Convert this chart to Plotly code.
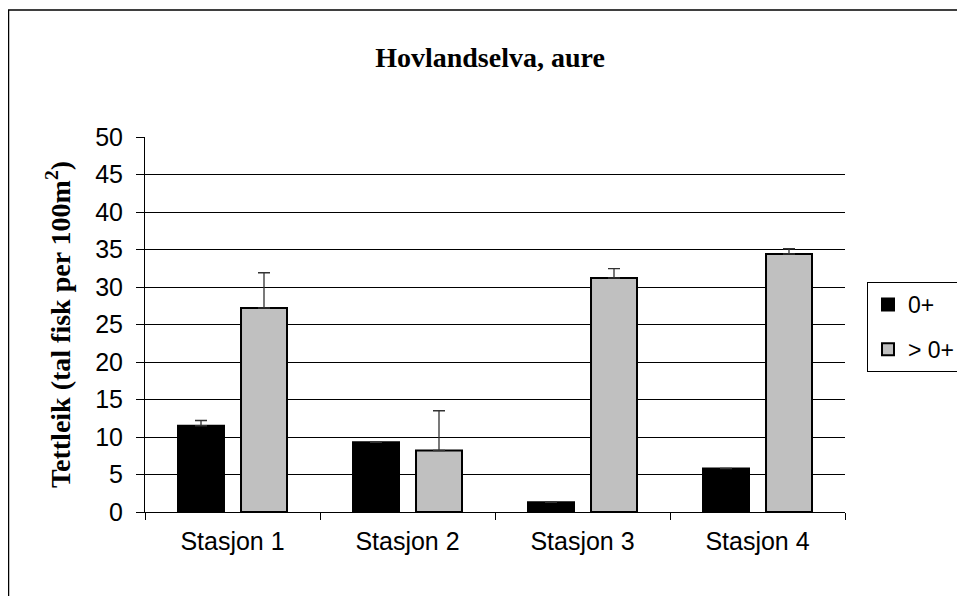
import plotly.graph_objects as go

stations = ["Stasjon 1", "Stasjon 2", "Stasjon 3", "Stasjon 4"]
young = [11.5, 9.3, 1.3, 5.8]          # 0+
young_err = [0.7, 0, 0, 0]
older = [27.2, 8.2, 31.2, 34.4]        # > 0+
older_err = [4.7, 5.3, 1.25, 0.7]
no_err = [0, 0, 0, 0]
y_ticks = [0, 5, 10, 15, 20, 25, 30, 35, 40, 45, 50]

# page body adds an 8px offset, so the figure is laid out 8px smaller
W, H = 957, 588
L, R, T, B = 137, 120, 129, 84
PW, PH = W - L - R, H - T - B


def err(vals):
    return {"type": "data", "symmetric": False, "array": vals, "arrayminus": no_err,
            "color": "#333333", "thickness": 1.3, "width": 6}


fig = go.Figure()
fig.add_trace(go.Bar(x=stations, y=young, name="0+", legendgroup="a",
                     marker={"color": "black", "line": {"color": "black", "width": 2}},
                     error_y=err(young_err)))
fig.add_trace(go.Bar(x=stations, y=older, name="> 0+", legendgroup="b",
                     marker={"color": "#c0c0c0", "line": {"color": "black", "width": 2}},
                     error_y=err(older_err)))

# outer chart border (runs off the right/bottom edge like the original)
fig.add_shape(type="rect", xref="paper", yref="paper",
              x0=(0.5 - L) / PW, x1=(W + 10 - L) / PW,
              y0=-(B + 10) / PH, y1=(H - 2 - B) / PH,
              line={"color": "black", "width": 1.5}, layer="below")

fig.update_layout(
    width=W, height=H,
    margin={"l": L, "r": R, "t": T, "b": B, "autoexpand": False},
    paper_bgcolor="white", plot_bgcolor="white",
    barmode="group", bargap=0.28, bargroupgap=0.27,
    title={"text": "<b>Hovlandselva, aure</b>", "x": 482 / W, "xanchor": "center",
           "y": 1 - 49 / H, "yanchor": "middle",
           "font": {"family": "Liberation Serif", "size": 28, "color": "black"}},
    font={"family": "Liberation Sans", "size": 25, "color": "black"},
    showlegend=True,
    legend={"x": (859 - L) / PW, "xanchor": "left",
            "y": (H - B - 274) / PH, "yanchor": "top",
            "bordercolor": "black", "borderwidth": 1, "bgcolor": "white",
            "font": {"family": "Liberation Sans", "size": 23},
            "traceorder": "grouped", "tracegroupgap": 12, "itemwidth": 30},
)
fig.update_xaxes(type="category", showline=True, linecolor="black", linewidth=1,
                 ticks="outside", tickson="boundaries", ticklen=7, tickcolor="black",
                 showgrid=False, tickfont={"size": 25}, ticklabelstandoff=7)
fig.update_yaxes(range=[0, 50], tickvals=y_ticks, showline=True, linecolor="black",
                 linewidth=1, ticks="outside", ticklen=8, tickcolor="black",
                 showgrid=True, gridcolor="black", gridwidth=1, zeroline=False,
                 tickfont={"size": 25}, ticklabelstandoff=8,
                 title={"text": "<b>Tettleik (tal fisk per 100m<sup>2</sup>)</b>",
                        "font": {"family": "Liberation Serif", "size": 28},
                        "standoff": 16})

fig.write_html("out.html")
